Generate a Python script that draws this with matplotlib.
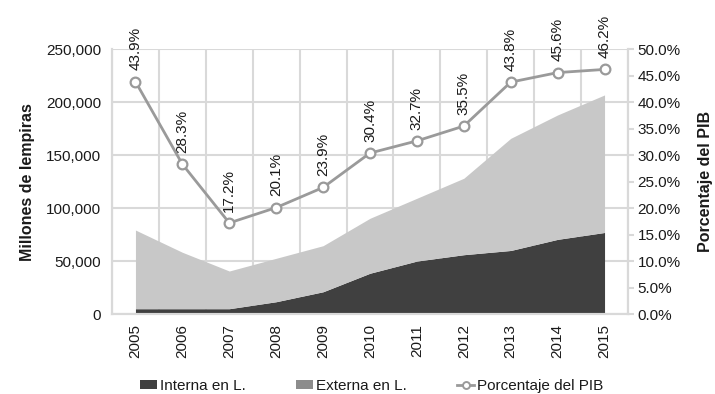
import matplotlib
matplotlib.use("Agg")
import matplotlib.pyplot as plt
from matplotlib.patches import Patch
from matplotlib.lines import Line2D
from matplotlib.ticker import FuncFormatter, MultipleLocator
import numpy as np

plt.rcParams['font.family'] = ['Liberation Sans', 'DejaVu Sans']

years = ["2005", "2006", "2007", "2008", "2009", "2010",
         "2011", "2012", "2013", "2014", "2015"]
interna = [5000, 5000, 5000, 11600, 21000, 38500, 50000, 56000, 60000, 70500, 77000]
externa = [74300, 53300, 35600, 41000, 43500, 51900, 59300, 72200, 105900, 117500, 129900]
pct_pib = [43.9, 28.3, 17.2, 20.1, 23.9, 30.4, 32.7, 35.5, 43.8, 45.6, 46.2]

TEXT = "#1a1a1a"
GRID = "#d9d9d9"
DARK = "#404040"
LIGHT = "#c8c8c8"
LEGEND_EXT = "#8c8c8c"
LINE = "#9a9a9a"
FS = 11

fig = plt.figure(figsize=(7.15, 3.94), dpi=100)
ax = fig.add_axes([112 / 715, 1 - 314 / 394, (628 - 112) / 715, (314 - 49.3) / 394])
ax2 = ax.twinx()

x = np.arange(len(years))
total = np.array(interna) + np.array(externa)

ax.fill_between(x, 0, interna, color=DARK, linewidth=0, zorder=2)
ax.fill_between(x, interna, total, color=LIGHT, linewidth=0, zorder=2)

ax.set_xlim(-0.5, len(years) - 0.5)
ax.set_ylim(0, 250000)
ax.yaxis.set_major_locator(MultipleLocator(50000))
ax.yaxis.set_major_formatter(FuncFormatter(lambda v, p: f"{int(v):,}"))
ax.set_xticks(x)
ax.set_xticklabels(years, rotation=90, fontsize=FS, color=TEXT)
ax.set_xticks(np.arange(-0.5, len(years), 1.0), minor=True)
ax.tick_params(axis='x', which='both', length=0, pad=7)
ax.tick_params(axis='y', length=0, pad=8, labelsize=FS, labelcolor=TEXT)
ax.grid(True, axis='y', which='major', color=GRID, linewidth=1.5, zorder=0)
ax.grid(True, axis='x', which='minor', color=GRID, linewidth=1.5, zorder=0)
ax.set_axisbelow(True)
for side in ['left', 'bottom', 'right', 'top']:
    ax.spines[side].set_color(GRID)
    ax.spines[side].set_linewidth(1.5)
ax.spines['top'].set_visible(False)
ax.set_ylabel("Millones de lempiras", fontsize=11.5, fontweight='bold',
              color=TEXT, labelpad=8)

ax2.plot(x, pct_pib, color=LINE, linewidth=2, marker='o', markersize=7,
         markerfacecolor='white', markeredgecolor=LINE, markeredgewidth=1.6,
         zorder=5, clip_on=False)
ax2.set_ylim(0, 50)
ax2.yaxis.set_major_locator(MultipleLocator(5))
ax2.yaxis.set_major_formatter(FuncFormatter(lambda v, p: f"{v:.1f}%"))
ax2.tick_params(axis='y', length=4, width=1.5, color=GRID, pad=3,
                labelsize=FS, labelcolor=TEXT)
for side in ['left', 'bottom', 'right', 'top']:
    ax2.spines[side].set_color(GRID)
    ax2.spines[side].set_linewidth(1.5)
ax2.spines['top'].set_visible(False)
ax2.set_ylabel("Porcentaje del PIB", fontsize=11.5, fontweight='bold',
               color=TEXT, labelpad=12)

for xi, v in zip(x, pct_pib):
    ax2.annotate(f"{v:.1f}%", (xi, v), xytext=(0, 8), textcoords='offset points',
                 rotation=90, ha='center', va='bottom', fontsize=FS,
                 color=TEXT, annotation_clip=False)

handles = [
    Patch(facecolor=DARK, edgecolor='none'),
    Patch(facecolor=LEGEND_EXT, edgecolor='none'),
    Line2D([0], [0], color=LINE, linewidth=2, marker='o', markersize=5,
           markerfacecolor='white', markeredgecolor=LINE, markeredgewidth=1.4),
]
labels = ["Interna en L.", "Externa en L.", "Porcentaje del PIB"]
fig.legend(handles, labels, loc='center', bbox_to_anchor=(372 / 715, 1 - 386 / 394),
           ncol=3, frameon=False, fontsize=FS, handlelength=1.1, handleheight=0.45,
           handletextpad=0.2, columnspacing=3.3, labelcolor=TEXT)

fig.savefig("out.png", dpi=100)
